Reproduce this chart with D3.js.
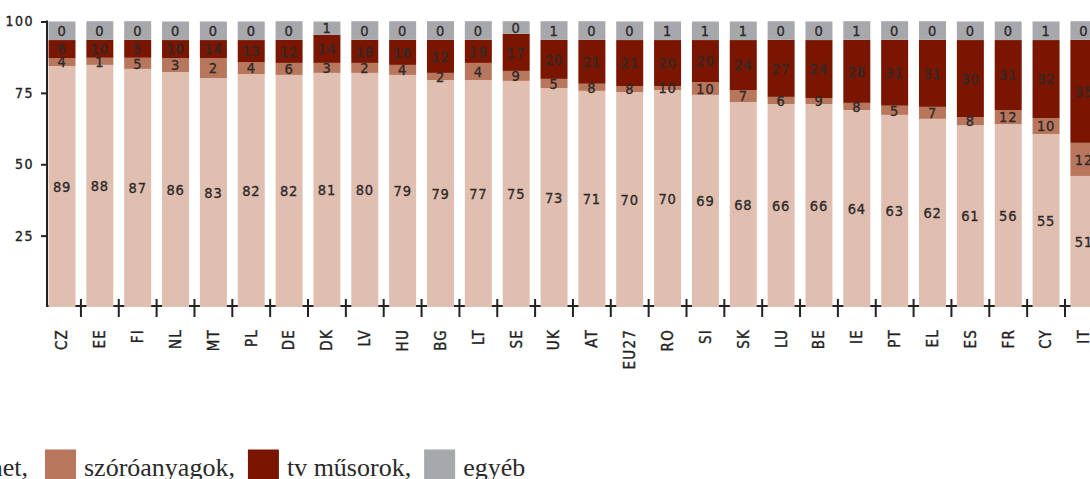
<!DOCTYPE html>
<html>
<head>
<meta charset="utf-8">
<script src="https://cdn.jsdelivr.net/npm/d3@7"></script>
<style>
  html, body { margin: 0; padding: 0; background: #fff; }
  svg { display: block; }
</style>
</head>
<body>
<svg id="chart" width="1090" height="479"></svg>
<script>
// ---- data ----
const categories = ["CZ","EE","FI","NL","MT","PL","DE","DK","LV","HU","BG","LT","SE","UK","AT","EU27","RO","SI","SK","LU","BE","IE","PT","EL","ES","FR","CY","IT"];

// printed value labels
const internetLabels = [89,88,87,86,83,82,82,81,80,79,79,77,75,73,71,70,70,69,68,66,66,64,63,62,61,56,55,51];
const szoroLabels    = [4,1,5,3,2,4,6,3,2,4,2,4,9,5,8,8,10,10,7,6,9,8,5,7,8,12,10,12];
const tvLabels       = [6,10,5,10,14,13,12,14,18,16,12,19,17,20,21,21,20,20,24,27,24,28,31,31,30,31,32,35];
const egyebLabels    = [0,0,0,0,0,0,0,1,0,0,0,0,0,1,0,0,1,1,1,0,0,1,0,0,0,0,1,0];

// segment heights as drawn in the picture
const internetValues = [84.4,84.8,83.4,82.3,80.2,81.6,81.3,82.0,82.0,81.3,79.5,79.5,79.2,76.7,75.7,75.3,76.0,74.3,71.8,71.1,71.1,69.0,67.3,65.9,63.7,64.1,60.6,45.9];
const szoroValues    = [2.8,2.5,3.9,4.9,7.0,4.2,4.2,3.5,3.5,3.5,2.5,6.0,3.5,3.2,2.5,2.1,1.4,4.5,4.2,2.5,2.1,2.5,3.2,4.2,2.8,4.9,5.6,11.6];
const tvValues       = [6.3,6.3,6.3,6.3,6.3,7.7,8.1,9.8,8.1,8.8,11.6,8.1,13.0,13.7,15.4,16.1,16.1,14.7,17.5,20.0,20.3,22.1,23.1,23.5,27.0,24.5,27.3,36.1];
const egyebValues    = [6.5,6.5,6.5,6.5,6.5,6.5,6.5,4.7,6.5,6.5,6.5,6.5,4.4,6.5,6.5,6.5,6.5,6.5,6.5,6.5,6.5,6.5,6.5,6.5,6.5,6.5,6.5,6.5];

const seriesNames  = ["internet", "szóróanyagok", "tv műsorok", "egyéb"];
const seriesColors = ["#e0bfb0", "#b8775c", "#7a1500", "#a7a8ac"];
const yTicks = [25, 50, 75, 100];

// ---- build ----
const keys = ["internet","szoro","tv","egyeb"];
const rows = categories.map((c, i) => ({
  cat: c,
  internet: internetValues[i], szoro: szoroValues[i], tv: tvValues[i], egyeb: egyebValues[i],
  labels: { internet: internetLabels[i], szoro: szoroLabels[i], tv: tvLabels[i], egyeb: egyebLabels[i] }
}));
const stacked = d3.stack().keys(keys)(rows);

const svg = d3.select("#chart");
const x = d3.scaleBand().domain(categories).range([48.5, 1097.4]).paddingInner(0.2867).paddingOuter(0);
const y = d3.scaleLinear().domain([0, 100]).range([307, 21.5]);

const labelFont = "'DejaVu Sans Condensed','DejaVu Sans',sans-serif";

// x axis baseline
svg.append("line")
  .attr("x1", 47).attr("x2", 1090)
  .attr("y1", 306).attr("y2", 306)
  .attr("stroke", "#222").attr("stroke-width", 2);

// x ticks between bars
const gapHalf = x.step() * x.paddingInner() / 2;
const tickXs = categories.slice(1).map(c => x(c) - gapHalf).concat([x(categories[categories.length-1]) + x.bandwidth() + gapHalf]);
svg.append("g").selectAll("line").data(tickXs).join("line")
  .attr("x1", d => d).attr("x2", d => d)
  .attr("y1", 299).attr("y2", 317)
  .attr("stroke", "#222").attr("stroke-width", 2);

// bars
const g = svg.append("g");
stacked.forEach((s, si) => {
  g.append("g").attr("fill", seriesColors[si])
    .selectAll("rect").data(s).join("rect")
    .attr("x", d => x(d.data.cat))
    .attr("width", x.bandwidth())
    .attr("y", d => y(d[1]))
    .attr("height", d => y(d[0]) - y(d[1]));
});

// value labels
stacked.forEach((s, si) => {
  const key = keys[si];
  g.append("g")
    .selectAll("text").data(s).join("text")
    .attr("x", d => x(d.data.cat) + x.bandwidth() / 2)
    .attr("y", d => (y(d[0]) + y(d[1])) / 2)
    .attr("dy", "0.36em")
    .attr("text-anchor", "middle")
    .attr("font-family", labelFont)
    .attr("font-size", 14.5)
    .attr("letter-spacing", 0.8)
    .attr("stroke", "#2e2a2a").attr("stroke-width", 0.35)
    .attr("fill", "#2e2a2a")
    .text(d => d.data.labels[key]);
});

// y axis
const yAxis = d3.axisLeft(y).tickValues(yTicks).tickSize(6).tickSizeOuter(0).tickPadding(7);
const ya = svg.append("g").attr("transform", "translate(47,0)").call(yAxis);
ya.select(".domain").attr("stroke", "#222").attr("stroke-width", 2);
ya.selectAll(".tick line").attr("stroke", "#222").attr("stroke-width", 2);
ya.selectAll(".tick text")
  .attr("font-family", labelFont)
  .attr("font-size", 14)
  .attr("letter-spacing", 1.5)
  .attr("stroke", "#222").attr("stroke-width", 0.35)
  .attr("fill", "#222");
ya.select(".domain").attr("d", `M0,${y(100)-1}V307`);

// x labels
svg.append("g").selectAll("text").data(categories).join("text")
  .attr("transform", d => `translate(${x(d) + x.bandwidth()/2},329) rotate(-90)`)
  .attr("dy", "0.36em")
  .attr("text-anchor", "end")
  .attr("font-family", labelFont)
  .attr("font-size", 15)
  .attr("letter-spacing", 1.2)
  .attr("stroke", "#222").attr("stroke-width", 0.35)
  .attr("fill", "#222")
  .text(d => d);

// legend
const lg = svg.append("g").attr("font-family", "'Liberation Serif','DejaVu Serif',serif").attr("font-size", 26).attr("fill", "#2a2a2a");
const boxSize = 31, boxTop = 449.5, baseline = 475.5;
// first item (mostly off-screen): text ends at x=28
const firstText = lg.append("text").attr("y", baseline).attr("text-anchor", "end").attr("x", 28).text(seriesNames[0] + ",");
const ftw = firstText.node().getComputedTextLength();
lg.append("rect").attr("x", 28 - ftw - 8 - boxSize).attr("y", boxTop).attr("width", boxSize).attr("height", boxSize).attr("fill", seriesColors[0]);
let cx = 45;
for (let i = 1; i < seriesNames.length; i++) {
  lg.append("rect").attr("x", cx).attr("y", boxTop).attr("width", boxSize).attr("height", boxSize).attr("fill", seriesColors[i]);
  const t = lg.append("text").attr("x", cx + boxSize + 8).attr("y", baseline)
    .text(seriesNames[i] + (i < seriesNames.length - 1 ? "," : ""));
  cx = cx + boxSize + 8 + t.node().getComputedTextLength() + 13;
}
</script>
</body>
</html>
